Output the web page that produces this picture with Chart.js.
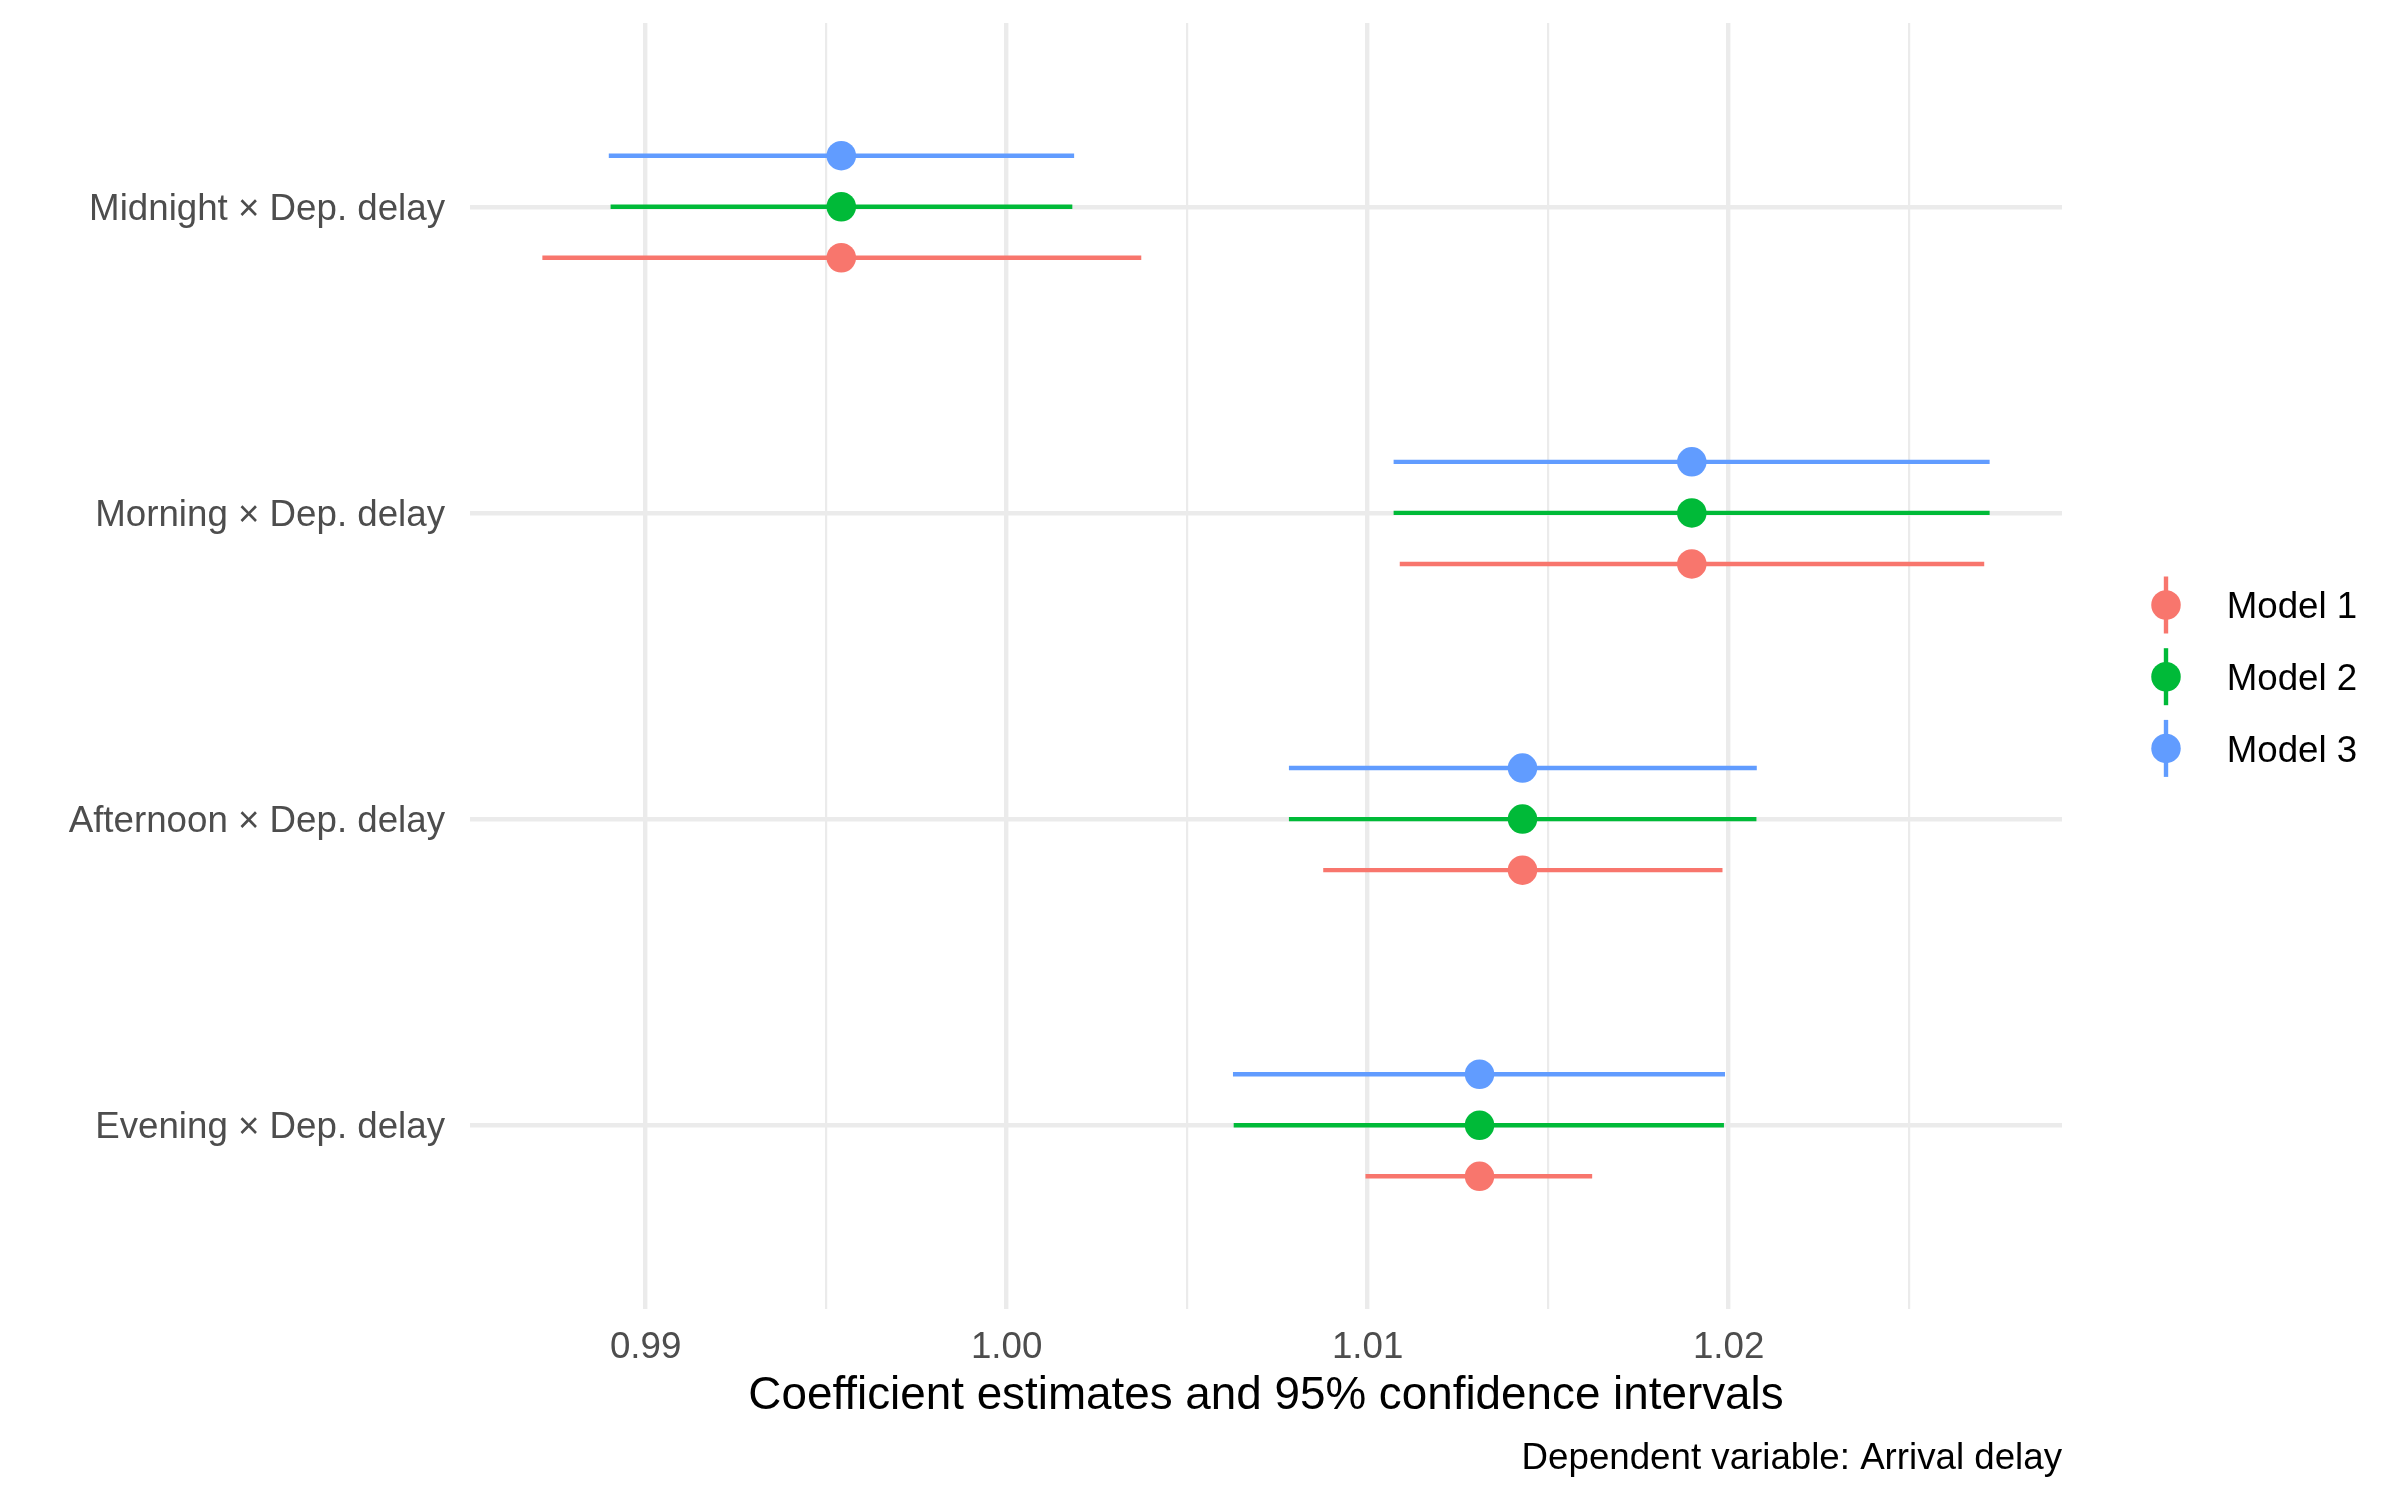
<!DOCTYPE html>
<html>
<head>
<meta charset="utf-8">
<script src="https://cdn.jsdelivr.net/npm/chart.js@4.4.1/dist/chart.umd.min.js"></script>
<style>
  html, body { margin: 0; padding: 0; background: #ffffff; }
  canvas { display: block; }
</style>
</head>
<body>
<canvas id="coefChart" width="2400" height="1500"></canvas>
<script>
// terms, top to bottom as they appear on the y axis
var terms = ['Midnight \u00d7 Dep. delay', 'Morning \u00d7 Dep. delay', 'Afternoon \u00d7 Dep. delay', 'Evening \u00d7 Dep. delay'];
var models = ['Model 1', 'Model 2', 'Model 3'];
var modelColors = ['#F8766D', '#00BA38', '#619CFF'];

var model1Est = [0.99542, 1.01898, 1.01429, 1.01310];
var model1Low = [0.98714, 1.01089, 1.00877, 1.00994];
var model1High = [1.00373, 1.02708, 1.01983, 1.01622];

var model2Est = [0.99542, 1.01898, 1.01429, 1.01310];
var model2Low = [0.98903, 1.01072, 1.00782, 1.00629];
var model2High = [1.00182, 1.02723, 1.02077, 1.01987];

var model3Est = [0.99542, 1.01898, 1.01429, 1.01310];
var model3Low = [0.98898, 1.01072, 1.00782, 1.00627];
var model3High = [1.00187, 1.02723, 1.02078, 1.01990];

var xMajorTicks = [0.99, 1.00, 1.01, 1.02];
var xMajorLabels = ['0.99', '1.00', '1.01', '1.02'];
var xMinorTicks = [0.995, 1.005, 1.015, 1.025];

var xTitle = 'Coefficient estimates and 95% confidence intervals';
var caption = 'Dependent variable: Arrival delay';

var FONT = '"Liberation Sans", Arial, Helvetica, sans-serif';
var LW = 4.4;

var est = [model1Est, model2Est, model3Est];
var low = [model1Low, model2Low, model3Low];
var high = [model1High, model2High, model3High];

// ggplot-like continuous expansion (5% of data range)
var allVals = [].concat(model1Low, model1High, model2Low, model2High, model3Low, model3High);
var dMin = Math.min.apply(null, allVals), dMax = Math.max.apply(null, allVals);
var xMin = dMin - 0.05 * (dMax - dMin), xMax = dMax + 0.05 * (dMax - dMin);

function termPos(i) { return terms.length - i; }
function dodge(j) { return (j - (models.length - 1) / 2) * 0.5 / models.length; }

var pointSets = [], lineSets = [];
models.forEach(function (name, j) {
    pointSets.push({
        label: name,
        data: terms.map(function (t, i) { return { x: est[j][i], y: termPos(i) + dodge(j) }; }),
        backgroundColor: modelColors[j],
        borderWidth: 0,
        pointRadius: 14.75,
        showLine: false
    });
    terms.forEach(function (t, i) {
        lineSets.push({
            label: name + ' ' + t,
            data: [{ x: low[j][i], y: termPos(i) + dodge(j) }, { x: high[j][i], y: termPos(i) + dodge(j) }],
            borderColor: modelColors[j],
            borderWidth: LW,
            pointRadius: 0,
            showLine: true
        });
    });
});

var isMajor = function (v) { return xMajorTicks.some(function (m) { return Math.abs(m - v) < 1e-9; }); };

var sideLegend = {
    id: 'sideLegend',
    afterDraw: function (chart) {
        var ctx = chart.ctx;
        ctx.save();
        models.forEach(function (name, j) {
            var cx = 2166, cy = 605 + j * 71.7;
            ctx.strokeStyle = modelColors[j];
            ctx.lineWidth = LW;
            ctx.beginPath();
            ctx.moveTo(cx, cy - 28.5);
            ctx.lineTo(cx, cy + 28.5);
            ctx.stroke();
            ctx.fillStyle = modelColors[j];
            ctx.beginPath();
            ctx.arc(cx, cy, 14.75, 0, Math.PI * 2);
            ctx.fill();
            ctx.fillStyle = '#000000';
            ctx.font = '36.7px ' + FONT;
            ctx.textAlign = 'left';
            ctx.textBaseline = 'alphabetic';
            ctx.fillText(name, 2226.7, cy + 13.3);
        });
        ctx.font = '36.7px ' + FONT;
        ctx.textAlign = 'right';
        ctx.fillStyle = '#000000';
        ctx.fillText(caption, chart.chartArea.right, 1469);
        ctx.restore();
    }
};

new Chart(document.getElementById('coefChart').getContext('2d'), {
    type: 'scatter',
    data: { datasets: pointSets.concat(lineSets) },
    options: {
        responsive: false,
        animation: false,
        devicePixelRatio: 1,
        events: [],
        layout: { padding: { top: 23, right: 338, bottom: 0, left: 0 } },
        plugins: {
            legend: { display: false },
            tooltip: { enabled: false }
        },
        scales: {
            x: {
                type: 'linear',
                min: xMin,
                max: xMax,
                afterBuildTicks: function (scale) {
                    scale.ticks = xMajorTicks.concat(xMinorTicks).sort().map(function (v) { return { value: v }; });
                },
                afterFit: function (scale) {
                    scale.height = 191;
                    scale.paddingLeft = 0;
                    scale.paddingRight = 0;
                },
                grid: {
                    color: '#EBEBEB',
                    lineWidth: function (c) { return c.tick && isMajor(c.tick.value) ? LW : LW / 2; },
                    drawTicks: false
                },
                border: { display: false },
                ticks: {
                    autoSkip: false,
                    maxRotation: 0,
                    padding: 17,
                    color: '#4D4D4D',
                    font: { family: FONT, size: 36.7 },
                    callback: function (v) {
                        var k = xMajorTicks.findIndex(function (m) { return Math.abs(m - v) < 1e-9; });
                        return k >= 0 ? xMajorLabels[k] : '';
                    }
                },
                title: {
                    display: true,
                    text: xTitle,
                    color: '#000000',
                    font: { family: FONT, size: 45.8, lineHeight: 1.2 },
                    padding: { top: 0, bottom: 76.5 }
                }
            },
            y: {
                type: 'linear',
                min: 1 - 0.6,
                max: terms.length + 0.6,
                afterBuildTicks: function (scale) {
                    scale.ticks = terms.map(function (t, i) { return { value: termPos(i) }; });
                },
                afterFit: function (scale) {
                    scale.width = 470;
                    scale.paddingTop = 0;
                    scale.paddingBottom = 0;
                },
                grid: { color: '#EBEBEB', lineWidth: LW, drawTicks: false },
                border: { display: false },
                ticks: {
                    autoSkip: false,
                    padding: 25,
                    labelOffset: 3,
                    color: '#4D4D4D',
                    font: { family: FONT, size: 36.7 },
                    callback: function (v) { return terms[terms.length - v]; }
                }
            }
        }
    },
    plugins: [sideLegend]
});
</script>
</body>
</html>
